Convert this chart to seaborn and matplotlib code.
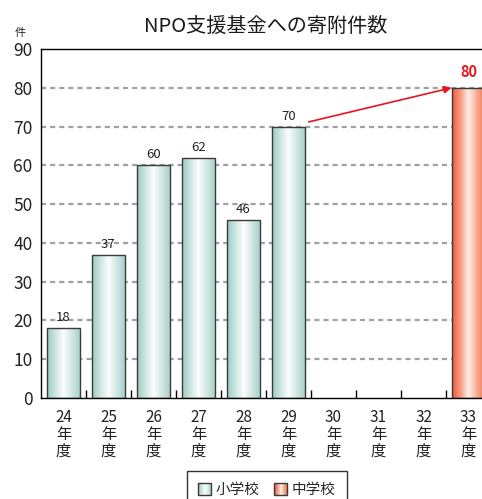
import numpy as np
import pandas as pd
import matplotlib.pyplot as plt
import seaborn as sns
from matplotlib.colors import LinearSegmentedColormap
from matplotlib.legend_handler import HandlerBase
from matplotlib.patches import Rectangle

years = ['24', '25', '26', '27', '28', '29', '30', '31', '32', '33']
elem_years = ['24', '25', '26', '27', '28', '29']
elem_counts = [18, 37, 60, 62, 46, 70]
junior_years = ['33']
junior_counts = [80]
schools = ['小学校', '中学校']

df = pd.DataFrame({
    'year': elem_years + junior_years,
    'count': elem_counts + junior_counts,
    'school': [schools[0]] * len(elem_years) + [schools[1]] * len(junior_years),
})

sns.set_theme(style='white')
plt.rcParams['font.family'] = ['Noto Sans CJK JP', 'DejaVu Sans']

# cylinder-like shading for the bars
cmaps = {
    '小学校': LinearSegmentedColormap.from_list(
        'elem', ['#9ccac3', '#cbe5e1', '#fbfefd', '#d2e8e4', '#a8d1ca']),
    '中学校': LinearSegmentedColormap.from_list(
        'junior', ['#ee5a3a', '#f6997e', '#fff0e8', '#f8ad95', '#f07555']),
}
palette = {'小学校': '#c3e1dc', '中学校': '#f48c70'}

fig = plt.figure(figsize=(4.82, 4.99), dpi=100)
ax = fig.add_axes([41 / 482, 101 / 499, 450 / 482, 349 / 499])

sns.barplot(data=df, x='year', y='count', hue='school', order=years,
            hue_order=schools, dodge=False, width=0.73, palette=palette,
            edgecolor='#3a3a3a', linewidth=1, legend=False, ax=ax, zorder=3)

# dashed grid lines behind the bars
for v in range(10, 90, 10):
    ax.axhline(v, color='#a0a0a0', lw=1.6, ls=(0, (2.3, 1.8)), zorder=1)

grad = np.linspace(0, 1, 256).reshape(1, -1)
for p in list(ax.patches):
    h = p.get_height()
    if not np.isfinite(h) or h <= 0:
        continue
    x0 = p.get_x()
    w = p.get_width()
    yr = years[int(round(x0 + w / 2))]
    school = schools[1] if yr in junior_years else schools[0]
    im = ax.imshow(grad, extent=[x0, x0 + w, 0, h], aspect='auto',
                   cmap=cmaps[school], zorder=2.5, interpolation='bilinear')
    im.set_clip_path(p)
    p.set_facecolor('none')
    if school == schools[1]:
        ax.text(x0 + w / 2, h + 2.0, f'{int(h)}', ha='center', va='bottom',
                fontsize=10.5, fontweight='bold', color='#e8141c', zorder=5)
    else:
        ax.text(x0 + w / 2, h + 1.0, f'{int(h)}', ha='center', va='bottom',
                fontsize=9.5, color='#222222', zorder=5)

ax.annotate('', xy=(8.625, 80), xytext=(5.45, 71.2),
            arrowprops=dict(arrowstyle='-|>', color='#e8141c', lw=1.2,
                            mutation_scale=11, shrinkA=0, shrinkB=0),
            zorder=6)

ax.set_xlim(-0.5, 9.5)
ax.set_ylim(0, 90)
ax.set_yticks(range(0, 91, 10))
ax.set_xticks(range(len(years)))
ax.set_xticklabels([f'{y}\n年\n度' for y in years], linespacing=1.0)
ax.set_xticks(np.arange(0.5, 9, 1), minor=True)
ax.tick_params(axis='y', length=0, pad=6, labelsize=12.5, labelcolor='#222222')
ax.tick_params(axis='x', which='major', length=0, pad=8, labelsize=11,
               labelcolor='#222222')
ax.tick_params(axis='x', which='minor', direction='in', length=6, width=1,
               color='black', bottom=True)
ax.set_xlabel('')
ax.set_ylabel('')
for s in ax.spines.values():
    s.set_color('black')
    s.set_linewidth(1)

ax.set_title('NPO支援基金への寄附件数', fontsize=14.5, pad=12, color='#1a1a1a')
fig.text(20 / 482, 1 - 33 / 499, '件', ha='center', va='center', fontsize=8,
         color='#222222')


class GradientHandler(HandlerBase):
    def __init__(self, cmap):
        super().__init__()
        self.cmap = cmap

    def create_artists(self, legend, orig_handle, xdescent, ydescent,
                       width, height, fontsize, trans):
        n = 20
        arts = []
        for i in range(n):
            arts.append(Rectangle((-xdescent + width * i / n, -ydescent),
                                  width / n, height, lw=0,
                                  facecolor=self.cmap((i + 0.5) / n),
                                  transform=trans))
        arts.append(Rectangle((-xdescent, -ydescent), width, height,
                              facecolor='none', edgecolor='#3a3a3a', lw=1,
                              transform=trans))
        return arts


handles = [Rectangle((0, 0), 1, 1) for _ in schools]
leg = fig.legend(handles, schools,
                 handler_map={h: GradientHandler(cmaps[s]) for h, s in zip(handles, schools)},
                 loc='upper center', bbox_to_anchor=(267 / 482, 28 / 499),
                 borderaxespad=0, ncol=2, frameon=True, fancybox=False,
                 edgecolor='black', fontsize=10.5, handlelength=0.9,
                 handleheight=0.9, columnspacing=1.0, handletextpad=0.3,
                 borderpad=0.8)
leg.get_frame().set_linewidth(1)

fig.savefig('out.png', dpi=100)
